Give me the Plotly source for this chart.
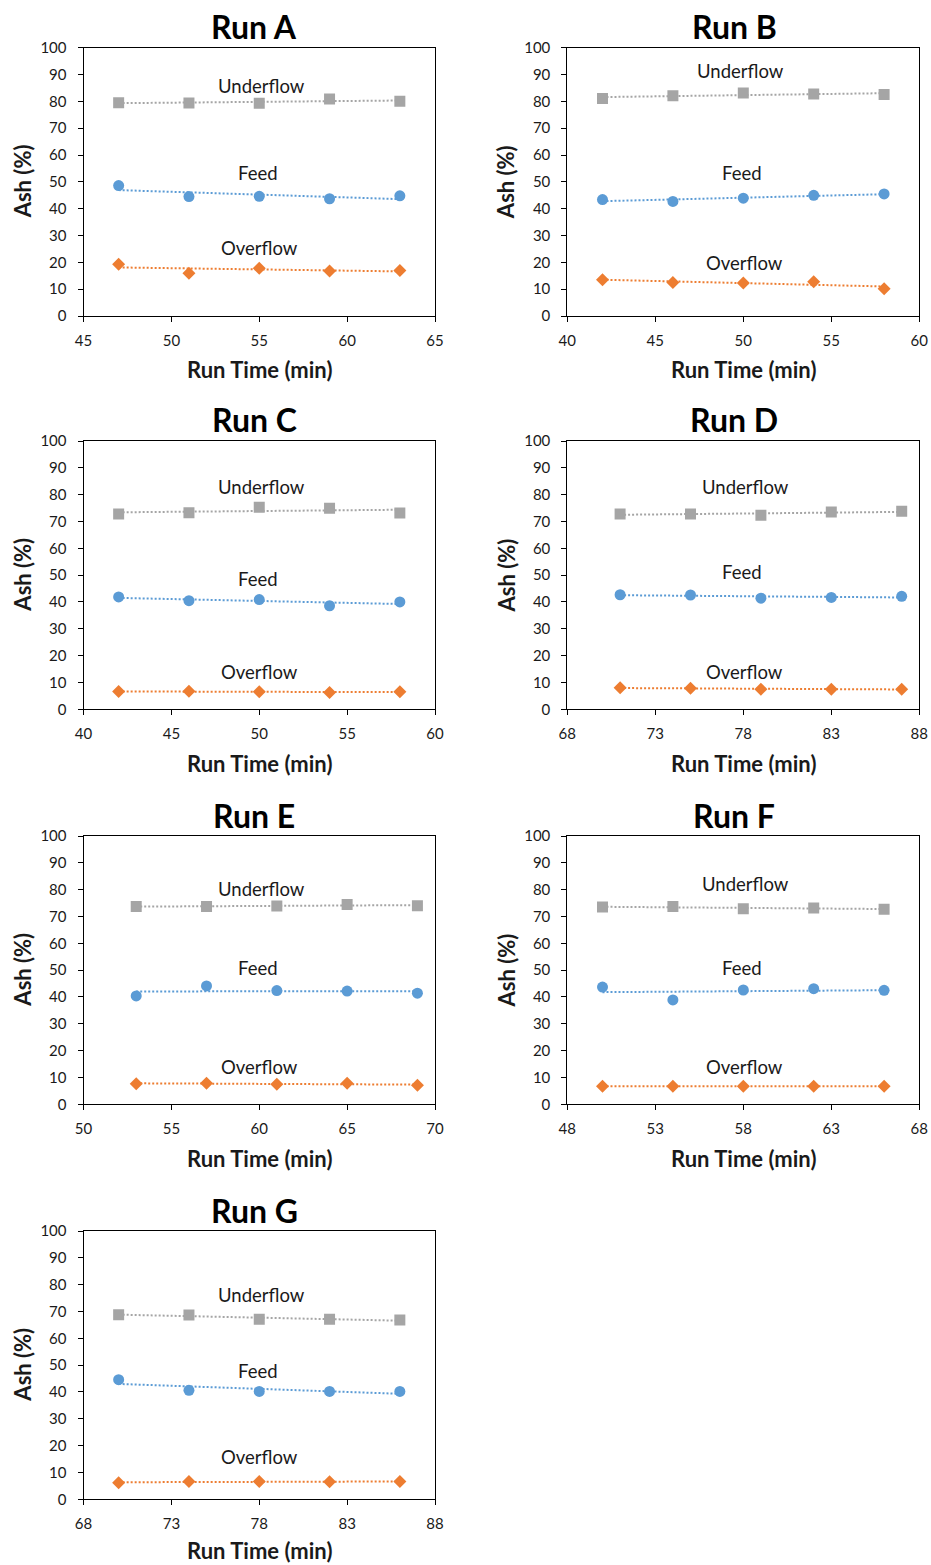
import numpy as np
import plotly.graph_objects as go

W, H = 931, 1565

# ---- data: ash content (%) of the three streams per run ----
run_names = ["Run A", "Run B", "Run C", "Run D", "Run E", "Run F", "Run G"]

times_a = [47, 51, 55, 59, 63]
underflow_a = [79.5, 79.4, 79.3, 80.9, 80.0]
feed_a = [48.6, 44.5, 44.6, 43.7, 44.8]
overflow_a = [19.3, 15.9, 17.8, 16.8, 17.0]

times_b = [42, 46, 50, 54, 58]
underflow_b = [81.1, 82.1, 83.1, 82.7, 82.6]
feed_b = [43.4, 42.7, 43.9, 45.0, 45.5]
overflow_b = [13.5, 12.5, 12.3, 12.8, 10.2]

times_c = [42, 46, 50, 54, 58]
underflow_c = [72.8, 73.3, 75.3, 74.9, 73.2]
feed_c = [41.9, 40.5, 40.9, 38.6, 40.0]
overflow_c = [6.6, 6.7, 6.5, 6.3, 6.5]

times_d = [71, 75, 79, 83, 87]
underflow_d = [72.8, 72.8, 72.3, 73.5, 73.8]
feed_d = [42.7, 42.6, 41.4, 41.7, 42.1]
overflow_d = [8.0, 7.8, 7.5, 7.5, 7.5]

times_e = [53, 57, 61, 65, 69]
underflow_e = [73.7, 73.7, 73.9, 74.5, 74.0]
feed_e = [40.4, 44.1, 42.4, 42.2, 41.4]
overflow_e = [7.7, 7.8, 7.5, 7.8, 7.1]

times_f = [50, 54, 58, 62, 66]
underflow_f = [73.5, 73.7, 72.9, 73.2, 72.7]
feed_f = [43.7, 38.9, 42.6, 43.1, 42.5]
overflow_f = [6.7, 6.7, 6.7, 6.7, 6.7]

times_g = [70, 74, 78, 82, 86]
underflow_g = [68.8, 68.7, 67.1, 67.1, 66.8]
feed_g = [44.6, 40.6, 40.2, 40.2, 40.2]
overflow_g = [6.2, 6.6, 6.6, 6.5, 6.6]

# x-axis ranges per run
x_ranges = [(45, 65), (40, 60), (40, 60), (68, 88), (50, 70), (48, 68), (68, 88)]

# stream label positions (x, y in data units) per run
label_pos = [
    [(55.14, 85.7), (54.91, 53.4), (55.0, 25.2)],
    [(49.85, 91.4), (49.92, 53.4), (50.04, 19.9)],
    [(50.14, 83.0), (49.91, 48.4), (50.0, 13.8)],
    [(78.15, 82.9), (77.92, 51.3), (78.04, 14.0)],
    [(60.14, 80.4), (59.91, 50.9), (60.0, 14.0)],
    [(58.15, 82.2), (57.92, 50.9), (58.04, 14.0)],
    [(78.14, 76.3), (77.91, 47.95), (78.0, 15.9)],
]
stream_names = ["Underflow", "Feed", "Overflow"]

runs = [
    (times_a, underflow_a, feed_a, overflow_a),
    (times_b, underflow_b, feed_b, overflow_b),
    (times_c, underflow_c, feed_c, overflow_c),
    (times_d, underflow_d, feed_d, overflow_d),
    (times_e, underflow_e, feed_e, overflow_e),
    (times_f, underflow_f, feed_f, overflow_f),
    (times_g, underflow_g, feed_g, overflow_g),
]

# ---- styling ----
FONT = "Lato"
TXT = "#1a1a1a"
colors = ["#A5A5A5", "#5B9BD5", "#ED7D31"]
symbols = ["square", "circle", "diamond"]
sizes = [11, 11, 10]

# panel geometry in pixels: (left, right) per column, (top, bottom) per row
col_px = [(83.5, 435.0), (567.3, 919.3)]
row_px = [(47.7, 316.0), (441.0, 709.3), (836.0, 1104.3), (1231.0, 1499.3)]
title_x_px = [254, 734]
# gap from plot bottom to the x-axis title centre (last row sits against the page edge)
xtitle_gap = [54, 54, 54, 51]


def px_x(p):
    return p / W


def px_y(p):
    return 1 - p / H


fig = go.Figure()
annotations = []
layout = {}

for i, (name, data) in enumerate(zip(run_names, runs)):
    r, c = divmod(i, 2)
    n = i + 1
    xa = "x" if n == 1 else f"x{n}"
    ya = "y" if n == 1 else f"y{n}"
    xl, xr = col_px[c]
    yt, yb = row_px[r]

    # linear trend lines across the sampled time span
    t = np.array(data[0], dtype=float)
    for k in range(3):
        vals = np.array(data[k + 1], dtype=float)
        slope, icpt = np.polyfit(t, vals, 1)
        tl = np.array([t.min(), t.max()])
        fig.add_trace(go.Scatter(
            x=tl, y=slope * tl + icpt, mode="lines", xaxis=xa, yaxis=ya,
            line=dict(color=colors[k], width=2, dash="2px,2px"),
            hoverinfo="skip", showlegend=False))
    for k in range(3):
        fig.add_trace(go.Scatter(
            x=data[0], y=data[k + 1], mode="markers", xaxis=xa, yaxis=ya,
            name=stream_names[k], showlegend=False,
            marker=dict(color=colors[k], symbol=symbols[k], size=sizes[k])))

    lo, hi = x_ranges[i]
    axis_common = dict(
        showgrid=False, zeroline=False, showline=True, mirror=True,
        linecolor="black", linewidth=1, ticks="outside", ticklen=5,
        tickcolor="black", tickwidth=1, automargin=False,
        tickfont=dict(family=FONT, size=15, color=TXT),
    )
    layout["xaxis" if n == 1 else f"xaxis{n}"] = dict(
        axis_common, domain=[px_x(xl), px_x(xr)], range=[lo, hi],
        tickmode="linear", tick0=lo, dtick=5, anchor=ya,
        ticklabelstandoff=6,
    )
    layout["yaxis" if n == 1 else f"yaxis{n}"] = dict(
        axis_common, domain=[px_y(yb), px_y(yt)], range=[0, 100],
        tickmode="linear", tick0=0, dtick=10, anchor=xa,
        ticklabelstandoff=8,
    )

    # panel title
    annotations.append(dict(
        text=f"<b>{name}</b>", x=px_x(title_x_px[c]), y=px_y(yt - 21),
        xref="paper", yref="paper", showarrow=False,
        xanchor="center", yanchor="middle",
        font=dict(family=FONT, size=32, color="black")))
    # axis titles
    annotations.append(dict(
        text="<b>Run Time (min)</b>", x=px_x((xl + xr) / 2),
        y=px_y(yb + xtitle_gap[r]),
        xref="paper", yref="paper", showarrow=False,
        xanchor="center", yanchor="middle",
        font=dict(family=FONT, size=22, color=TXT)))
    annotations.append(dict(
        text="<b>Ash (%)</b>", x=px_x(xl - 61), y=px_y((yt + yb) / 2),
        xref="paper", yref="paper", showarrow=False, textangle=-90,
        xanchor="center", yanchor="middle",
        font=dict(family=FONT, size=22, color=TXT)))
    # stream labels
    for k in range(3):
        lx, ly = label_pos[i][k]
        annotations.append(dict(
            text=stream_names[k], x=lx, y=ly, xref=xa, yref=ya,
            showarrow=False, xanchor="center", yanchor="middle",
            font=dict(family=FONT, size=18.5, color=TXT)))

fig.update_layout(
    width=W, height=H,
    margin=dict(l=0, r=0, t=0, b=0, autoexpand=False),
    paper_bgcolor="white", plot_bgcolor="white",
    annotations=annotations,
    **layout,
)

fig.write_html("out.html")
